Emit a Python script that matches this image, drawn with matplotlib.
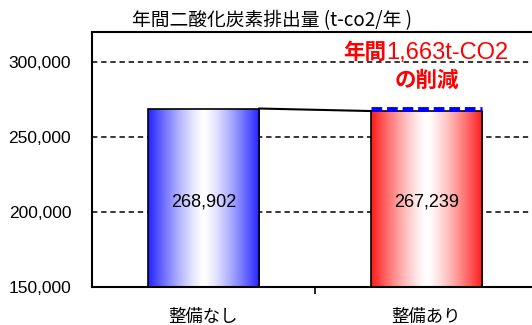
import numpy as np
import matplotlib
matplotlib.use("Agg")
import matplotlib.pyplot as plt
from matplotlib.colors import LinearSegmentedColormap

# annual CO2 emission (t-CO2/year)
categories = ["整備なし", "整備あり"]
emissions = [268902, 267239]
bar_colors = ["#2222ff", "#ff1a1a"]
y_ticks = [150000, 200000, 250000, 300000]
y_min, y_max = 150000, 320000
reduction = emissions[0] - emissions[1]

jp = ["Noto Sans CJK JP", "DejaVu Sans"]
num = ["Liberation Sans", "DejaVu Sans"]

fig = plt.figure(figsize=(5.32, 3.25), dpi=100)
ax = fig.add_axes([0.173, 0.117, 0.838, 0.785])

x = np.arange(len(categories))
width = 0.5
bars = ax.bar(x, emissions, width, color="none", edgecolor="black", linewidth=1.2, zorder=3)

# horizontal gradient fill: colour at the edges, white in the middle
profile = np.abs(np.linspace(-1, 1, 256)) ** 1.3
for bar, col in zip(bars, bar_colors):
    cmap = LinearSegmentedColormap.from_list("g", ["white", col])
    x0, y0 = bar.get_x(), y_min
    x1, y1 = bar.get_x() + bar.get_width(), bar.get_height()
    im = ax.imshow(profile[np.newaxis, :], cmap=cmap, vmin=0, vmax=1, aspect="auto",
                   extent=[x0, x1, y0, y1], zorder=2, interpolation="bilinear")
    im.set_clip_path(bar)

# connector between the two bar tops
ax.plot([x[0] + width / 2, x[1] - width / 2], emissions, color="black", lw=1.5, zorder=4)
# previous level drawn over the second bar
ax.plot([x[1] - width / 2, x[1] + width / 2], [emissions[0]] * 2, color="#0000ff",
        lw=3.5, ls=(0, (2.2, 1.0)), zorder=5)

for xi, v in zip(x, emissions):
    ax.text(xi, 206500, f"{v:,}", ha="center", va="center",
            fontsize=13, family=num, zorder=6)

ax.set_xlim(-0.5, 1.5)
ax.set_ylim(y_min, y_max)
ax.set_yticks(y_ticks)
ax.set_yticklabels([f"{t:,}" for t in y_ticks], family=num, fontsize=12.5)
ax.tick_params(axis="y", length=0, pad=15)
ax.set_xticks([0.5])
ax.set_xticklabels([""])
ax.tick_params(axis="x", which="major", length=5, width=1.2, direction="out")
ax.set_xticks(x, minor=True)
ax.set_xticklabels(categories, minor=True, family=jp, fontsize=12.5)
ax.tick_params(axis="x", which="minor", length=0, pad=15)

for t in y_ticks[1:]:
    ax.axhline(t, color="black", lw=1.1, ls=(0, (3.5, 2.5)), zorder=1)
for s in ax.spines.values():
    s.set_linewidth(1.5)

fig.text(0.248, 0.935, "年間二酸化炭素排出量 (t-co2/年 )", family=jp, fontsize=13.5, va="center")

# reduction annotation
ax.text(0.82, 306000, "年間", color="#ff0000", family=jp, fontsize=15.5,
        fontweight="bold", ha="right", va="center", zorder=7)
ax.text(0.82, 306000, f"{reduction:,}t-CO2", color="#ff0000", family=num,
        fontsize=17, ha="left", va="center", zorder=7)
ax.text(x[1], 287500, "の削減", color="#ff0000", family=jp, fontsize=15.5,
        fontweight="bold", ha="center", va="center", zorder=7)

fig.savefig("out.png", dpi=100)
